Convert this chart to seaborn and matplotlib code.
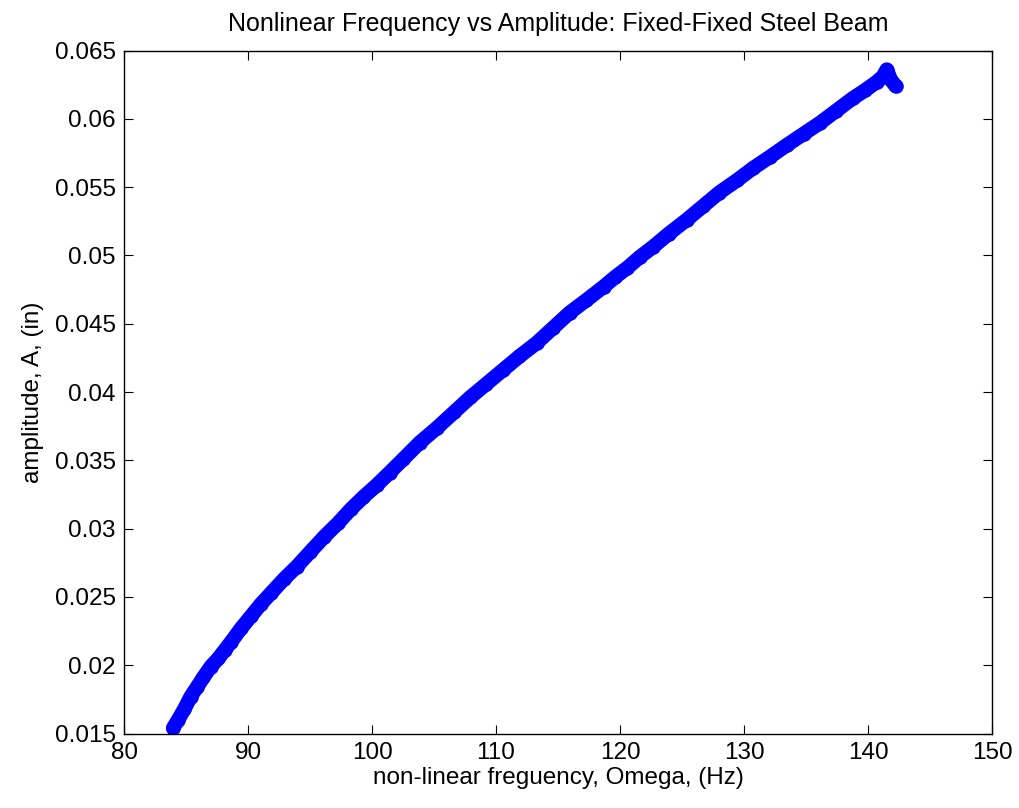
import matplotlib
matplotlib.use("Agg")
import matplotlib.pyplot as plt
import seaborn as sns
import pandas as pd

sns.set_style("white")
plt.rcParams['font.family'] = ['Liberation Sans', 'DejaVu Sans']
plt.rcParams['text.color'] = 'black'
plt.rcParams['axes.labelcolor'] = 'black'
plt.rcParams['xtick.color'] = 'black'
plt.rcParams['ytick.color'] = 'black'

# values
omega_hz = [83.96, 84.36, 84.87, 85.38, 85.89, 86.39, 87.00, 87.61, 88.12, 88.63,
            89.44, 90.25, 91.06, 91.88, 92.89, 93.91, 95.02, 96.14, 97.26, 98.27,
            99.29, 100.40, 101.42, 102.53, 103.85, 105.27, 106.59, 107.91, 109.23,
            110.55, 111.87, 113.29, 114.61, 115.93, 117.25, 118.67, 119.59, 120.60,
            121.62, 122.63, 123.95, 125.37, 126.69, 128.01, 129.43, 130.75, 132.07,
            133.49, 134.81, 136.13, 137.45, 138.77, 139.78, 140.70, 141.20, 141.51,
            141.81, 142.22]
amplitude_in = [0.0154, 0.0160, 0.0168, 0.0177, 0.0184, 0.0191, 0.0199, 0.0205, 0.0211,
                0.0217, 0.0227, 0.0236, 0.0245, 0.0253, 0.0263, 0.0272, 0.0283, 0.0294,
                0.0304, 0.0314, 0.0323, 0.0332, 0.0341, 0.0351, 0.0363, 0.0374, 0.0385,
                0.0396, 0.0406, 0.0416, 0.0426, 0.0436, 0.0447, 0.0458, 0.0467, 0.0477,
                0.0484, 0.0491, 0.0499, 0.0506, 0.0516, 0.0526, 0.0536, 0.0546, 0.0555,
                0.0564, 0.0572, 0.0581, 0.0589, 0.0597, 0.0606, 0.0615, 0.0621, 0.0627,
                0.0631, 0.0636, 0.0629, 0.0624]

x_ticks = [80, 90, 100, 110, 120, 130, 140, 150]
y_ticks = [0.015, 0.02, 0.025, 0.03, 0.035, 0.04, 0.045, 0.05, 0.055, 0.06, 0.065]
y_tick_labels = ["0.015", "0.02", "0.025", "0.03", "0.035", "0.04", "0.045",
                 "0.05", "0.055", "0.06", "0.065"]

df = pd.DataFrame({"omega": omega_hz, "amp": amplitude_in})

fig = plt.figure(figsize=(10.2, 8.08), dpi=100)
ax = fig.add_axes([0.1216, 0.0922, 0.851, 0.8453])

sns.lineplot(data=df, x="omega", y="amp", sort=False, ax=ax, color="#0000ff",
             linewidth=10.5, solid_capstyle="round", solid_joinstyle="round",
             marker="o", markersize=10.5, markeredgewidth=0)

ax.set_xlim(80, 150)
ax.set_ylim(0.015, 0.065)
ax.set_xticks(x_ticks)
ax.set_xticklabels([str(t) for t in x_ticks])
ax.set_yticks(y_ticks)
ax.set_yticklabels(y_tick_labels)
ax.tick_params(direction="in", length=6.5, width=0.8, labelsize=17.5,
               top=True, right=True, bottom=True, left=True, pad=6)
for s in ax.spines.values():
    s.set_visible(True)
    s.set_color("black")
    s.set_linewidth(1.0)

ax.set_xlabel("non-linear freguency, Omega, (Hz)", fontsize=17.5, labelpad=2)
ax.set_ylabel("amplitude, A, (in)", fontsize=17.5)
ax.yaxis.set_label_coords(-0.092, 0.5)
ax.set_title("Nonlinear Frequency vs Amplitude: Fixed-Fixed Steel Beam",
             fontsize=18, pad=14, color="black")

fig.savefig("out.png", dpi=100, facecolor="white")
